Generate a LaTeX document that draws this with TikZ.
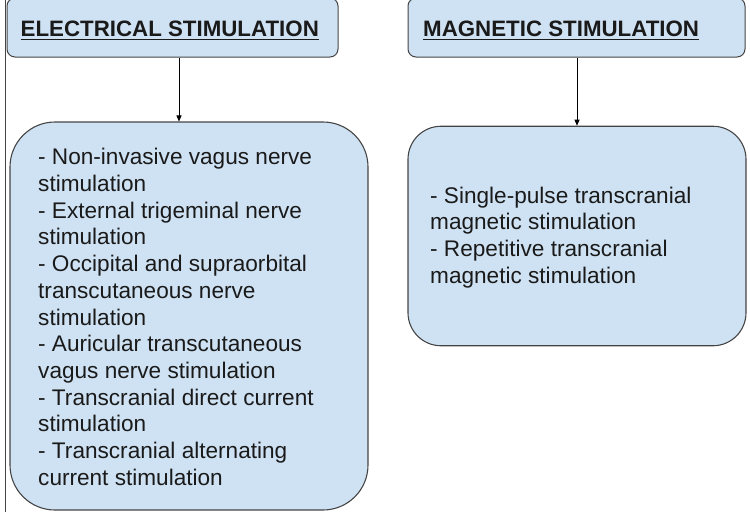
\documentclass[tikz,border=0pt]{standalone}
\usepackage{fontspec}
\setmainfont{Liberation Sans}
\usetikzlibrary{arrows.meta}
\definecolor{boxfill}{HTML}{CFE2F3}
\definecolor{boxline}{HTML}{454545}
\definecolor{txt}{HTML}{1A1A1A}
\tikzset{
  hdrbox/.style={draw=boxline, fill=boxfill, line width=1pt, rounded corners=8pt, minimum height=59pt, inner sep=0pt},
  bodybox/.style={draw=boxline, fill=boxfill, line width=1.1pt, inner sep=0pt},
  hdrtext/.style={inner sep=0pt, anchor=base west, text=txt, font=\bfseries\fontsize{22.3}{26}\selectfont},
  bodytext/.style={inner sep=0pt, anchor=west, align=left, text=txt, font=\fontsize{22.6}{26.7}\selectfont},
  conn/.style={draw=black, line width=0.9pt, -{Triangle[length=6pt,width=5pt]}},
  uline/.style={draw=txt, line width=1.8pt}
}
\begin{document}
\begin{tikzpicture}[x=1pt,y=-1pt]
\useasboundingbox (0,0) rectangle (750,512);
% left border line
\coordinate (bt) at (5.5,0);
\coordinate (bb) at (5.5,512);
\draw[draw=boxline, line width=1pt] (bt) -- (bb);

% headers
\node[hdrbox, minimum width=331pt] (eh) at (172.5,27.5) {};
\node[hdrbox, minimum width=337pt] (mh) at (576.5,27.5) {};
\node[hdrtext] (et) at (20.5,36) {ELECTRICAL STIMULATION};
\node[hdrtext] (mt) at (423,36) {MAGNETIC STIMULATION};
\draw[uline] ([yshift=-3.5pt]et.base west) -- ([yshift=-3.5pt]et.base east);
\draw[uline] ([yshift=-3.5pt]mt.base west) -- ([yshift=-3.5pt]mt.base east);

% body boxes
\node[bodybox, rounded corners=45pt, minimum width=358pt, minimum height=388pt] (eb) at (189,316) {};
\node[bodybox, rounded corners=33pt, minimum width=338pt, minimum height=219.5pt] (mb) at (577,236) {};

\node[bodytext] (ebt) at (38,317) {- Non-invasive vagus nerve\\stimulation\\- External trigeminal nerve\\stimulation\\- Occipital and supraorbital\\transcutaneous nerve\\stimulation\\- Auricular transcutaneous\\vagus nerve stimulation\\- Transcranial direct current\\stimulation\\- Transcranial alternating\\current stimulation};
\node[bodytext] (mbt) at (430,237.5) {- Single-pulse transcranial\\magnetic stimulation\\- Repetitive transcranial\\magnetic stimulation};

% connectors
\coordinate (ex) at (179,0);
\coordinate (mx) at (577,0);
\draw[conn] (eh.south -| ex) -- (eb.north -| ex);
\draw[conn] (mh.south -| mx) -- (mb.north -| mx);
\end{tikzpicture}
\end{document}
